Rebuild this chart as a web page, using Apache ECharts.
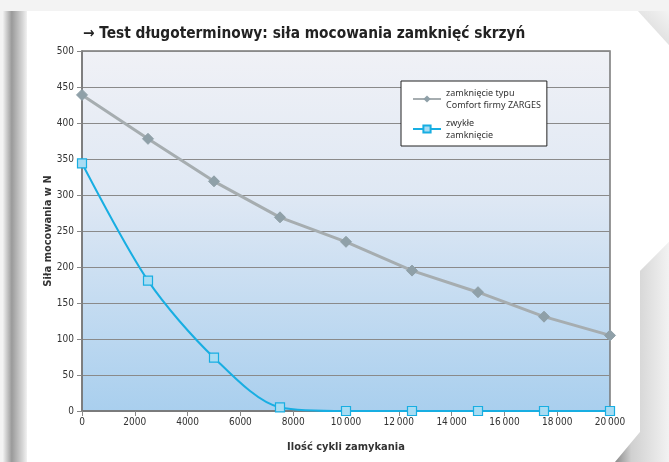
<!DOCTYPE html>
<html><head><meta charset="utf-8">
<script src="https://cdn.jsdelivr.net/npm/echarts@6/dist/echarts.min.js"></script>
<style>html,body{margin:0;padding:0;background:#f3f3f3}#c{width:669px;height:462px}</style>
</head><body><div id="c"></div>
<script>
var cycles = [0, 2500, 5000, 7500, 10000, 12500, 15000, 17500, 20000];
var zargesForce = [439, 378, 319, 269, 235, 195, 165, 131, 105];
var normalForce = [344, 181, 74, 5, 0, 0, 0, 0, 0];
var seriesNames = ['zamknięcie typu Comfort firmy ZARGES', 'zwykłe zamknięcie'];
var legendLabels = {'zamknięcie typu Comfort firmy ZARGES': 'zamknięcie typu\nComfort firmy ZARGES', 'zwykłe zamknięcie': 'zwykłe\nzamknięcie'};
var titleText = '→ Test długoterminowy: siła mocowania zamknięć skrzyń';
var yName = 'Siła mocowania w N';
var xName = 'Ilość cykli zamykania';

function pairs(xs, ys){ return xs.map(function(x,i){return [x, ys[i]];}); }
var narrow = "'Liberation Sans Narrow','DejaVu Sans Condensed',sans-serif";
var cond = "'DejaVu Sans Condensed','Liberation Sans Narrow',sans-serif";

var chart = echarts.init(document.getElementById('c'));
chart.setOption({
  animation: false,
  backgroundColor: '#f3f3f3',
  graphic: {elements: [
    {type:'rect', z:-10, silent:true, shape:{x:3,y:11,width:25,height:451},
     style:{fill:new echarts.graphic.LinearGradient(0,0,1,0,[{offset:0,color:'#f0f0f0'},{offset:0.35,color:'#9a9a9a'},{offset:0.8,color:'#d8d8d8'},{offset:1,color:'#f8f8f8'}])}},
    {type:'polygon', z:-9, silent:true, shape:{points:[[27,11],[638,11],[669,45],[669,242],[640,271],[640,432],[615,462],[27,462]]}, style:{fill:'#ffffff'}},
    {type:'polygon', z:-9, silent:true, shape:{points:[[640,271],[669,242],[669,462],[615,462],[640,432]]},
     style:{fill:new echarts.graphic.LinearGradient(0,0,1,0,[{offset:0,color:'#8a8a8a'},{offset:0.3,color:'#d0d0d0'},{offset:1,color:'#f2f2f2'}])}},
    {type:'polygon', z:-9, silent:true, shape:{points:[[638,11],[669,11],[669,45]]},
     style:{fill:new echarts.graphic.LinearGradient(0,1,1,0,[{offset:0,color:'#b0b0b0'},{offset:0.4,color:'#e0e0e0'},{offset:1,color:'#f3f3f3'}])}}
  ]},
  title: {text: titleText, left: 78, top: 22,
    textStyle:{fontFamily:cond, fontWeight:'bold', fontSize:15.3, color:'#222'}},
  grid: {left:82, right:59, top:51, bottom:51, show:true, borderColor:'#777', borderWidth:1.5,
    backgroundColor: new echarts.graphic.LinearGradient(0,0,0,1,[{offset:0,color:'#f0f1f6'},{offset:0.4,color:'#dfe8f4'},{offset:1,color:'#a9cfee'}])},
  legend: {left:401, top:81, orient:'vertical', backgroundColor:'#fff', borderColor:'#222', borderWidth:1,
    padding:[6,6,5,11], itemWidth:28, itemHeight:9, itemGap:6,
    data: seriesNames,
    formatter: function(n){ return legendLabels[n]; },
    textStyle:{fontFamily:"'Noto Sans','DejaVu Sans',sans-serif", fontSize:9, lineHeight:12, color:'#333', verticalAlign:'top'}},
  xAxis: {type:'value', min:0, max:20000, interval:2000,
    name: xName, nameLocation:'middle', nameGap:31, nameMoveOverlap:false,
    nameTextStyle:{fontFamily:cond, fontWeight:'bold', fontSize:11, color:'#333'},
    axisLine:{lineStyle:{color:'#777', width:1.5}},
    axisTick:{show:true, length:5, lineStyle:{color:'#888'}},
    splitLine:{show:false},
    axisLabel:{fontFamily:narrow, fontSize:10, color:'#333', margin:6,
      formatter:function(v){ return v >= 10000 ? Math.floor(v/1000) + '\u2009' + String(v%1000).padStart(3,'0') : String(v); }}},
  yAxis: {type:'value', min:0, max:500, interval:50,
    name: yName, nameLocation:'middle', nameGap:28, nameMoveOverlap:false,
    nameTextStyle:{fontFamily:cond, fontWeight:'bold', fontSize:11, color:'#333'},
    axisLine:{show:true, lineStyle:{color:'#777', width:1.5}},
    axisTick:{show:true, length:5, lineStyle:{color:'#888'}},
    splitLine:{show:true, lineStyle:{color:'#8a8a8a', width:1}},
    axisLabel:{fontFamily:narrow, fontSize:10, color:'#333', margin:8}},
  series: [
    {name: seriesNames[0], type:'line', data: pairs(cycles, zargesForce),
     symbol:'diamond', symbolSize:11, lineStyle:{color:'#a6adb0', width:3},
     itemStyle:{color:'#8fa0a8', borderColor:'#8fa0a8'}, z:3},
    {name: seriesNames[1], type:'line', data: pairs(cycles, normalForce), smooth:0.3,
     symbol:'rect', symbolSize:9, lineStyle:{color:'#18aee2', width:2},
     itemStyle:{color:'#a8dcf3', borderColor:'#18aee2', borderWidth:1.2}, z:4}
  ]
});
</script></body></html>
